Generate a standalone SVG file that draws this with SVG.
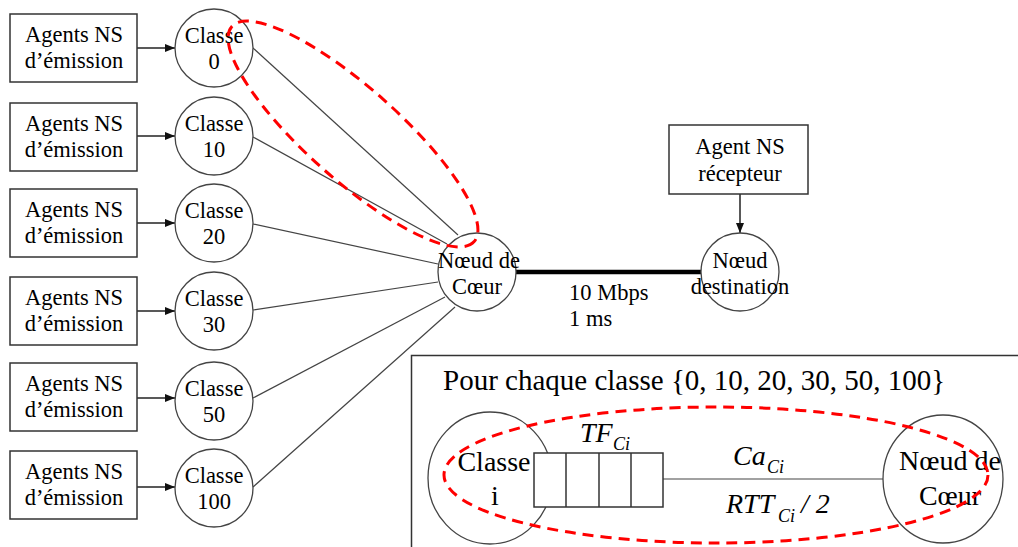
<svg xmlns="http://www.w3.org/2000/svg" width="1018" height="547" viewBox="0 0 1018 547">
<defs>
<style>
.box{fill:#fff;stroke:#333;stroke-width:1.5}
.nd{fill:#fff;stroke:#444;stroke-width:1.3}
.t{font-family:"Liberation Serif","Times New Roman",serif;font-size:22.5px;fill:#000;text-anchor:middle}
.tl{font-family:"Liberation Serif","Times New Roman",serif;font-size:22.5px;fill:#000}
.b{font-family:"Liberation Serif","Times New Roman",serif;font-size:28px;fill:#000}
.bi{font-family:"Liberation Serif","Times New Roman",serif;font-size:28px;font-style:italic;fill:#000}
.sub{font-family:"Liberation Serif","Times New Roman",serif;font-size:18px;font-style:italic;fill:#000}
.ln{stroke:#444;stroke-width:1.2;fill:none}
.arr{stroke:#222;stroke-width:1.5;fill:none;marker-end:url(#ah)}
.red{fill:none;stroke:#f00;stroke-width:3;stroke-dasharray:11 7}
</style>
<marker id="ah" markerWidth="10" markerHeight="8" refX="10" refY="4" orient="auto" markerUnits="userSpaceOnUse">
<path d="M0,0 L10,4 L0,8 z" fill="#111"/>
</marker>
</defs>
<rect width="1018" height="547" fill="#fff"/>

<g id="connectors">
<line class="arr" x1="137" y1="48" x2="175" y2="48"/>
<line class="arr" x1="137" y1="136" x2="175" y2="136"/>
<line class="arr" x1="137" y1="223" x2="175" y2="223"/>
<line class="arr" x1="137" y1="311" x2="175" y2="311"/>
<line class="arr" x1="137" y1="398" x2="175" y2="398"/>
<line class="arr" x1="137" y1="487" x2="175" y2="487"/>
<line class="ln" x1="253" y1="48" x2="458" y2="235"/>
<line class="ln" x1="253" y1="137" x2="447" y2="244"/>
<line class="ln" x1="253" y1="224" x2="438" y2="264"/>
<line class="ln" x1="253" y1="310" x2="438" y2="282"/>
<line class="ln" x1="253" y1="398" x2="445" y2="297"/>
<line class="ln" x1="253" y1="487" x2="455" y2="307"/>
<line x1="516" y1="272" x2="701" y2="272" stroke="#000" stroke-width="4.5"/>
<line class="arr" x1="740" y1="194" x2="740" y2="233"/>
</g>

<g id="src0"><rect class="box" x="10" y="14" width="127" height="68"/><text class="t" x="74" y="42">Agents NS</text><text class="t" x="74" y="68">d’émission</text></g>
<g id="src10"><rect class="box" x="10" y="103" width="127" height="68"/><text class="t" x="74" y="131">Agents NS</text><text class="t" x="74" y="157">d’émission</text></g>
<g id="src20"><rect class="box" x="10" y="189" width="127" height="68"/><text class="t" x="74" y="217">Agents NS</text><text class="t" x="74" y="243">d’émission</text></g>
<g id="src30"><rect class="box" x="10" y="277" width="127" height="68"/><text class="t" x="74" y="305">Agents NS</text><text class="t" x="74" y="331">d’émission</text></g>
<g id="src50"><rect class="box" x="10" y="363" width="127" height="68"/><text class="t" x="74" y="391">Agents NS</text><text class="t" x="74" y="417">d’émission</text></g>
<g id="src100"><rect class="box" x="10" y="451" width="127" height="68"/><text class="t" x="74" y="479">Agents NS</text><text class="t" x="74" y="505">d’émission</text></g>

<g id="c0"><circle class="nd" cx="214" cy="48" r="39"/><text class="t" x="214" y="43">Classe</text><text class="t" x="214" y="69">0</text></g>
<g id="c10"><circle class="nd" cx="214" cy="136" r="39"/><text class="t" x="214" y="131">Classe</text><text class="t" x="214" y="157">10</text></g>
<g id="c20"><circle class="nd" cx="214" cy="223" r="39"/><text class="t" x="214" y="218">Classe</text><text class="t" x="214" y="244">20</text></g>
<g id="c30"><circle class="nd" cx="214" cy="311" r="39"/><text class="t" x="214" y="306">Classe</text><text class="t" x="214" y="332">30</text></g>
<g id="c50"><circle class="nd" cx="214" cy="401" r="39"/><text class="t" x="214" y="396">Classe</text><text class="t" x="214" y="422">50</text></g>
<g id="c100"><circle class="nd" cx="214" cy="488" r="39"/><text class="t" x="214" y="483">Classe</text><text class="t" x="214" y="509">100</text></g>

<g id="core"><circle class="nd" cx="477" cy="272" r="39"/><text class="t" x="479" y="268">Nœud de</text><text class="t" x="477" y="294">Cœur</text></g>
<g id="dest"><circle class="nd" cx="740" cy="272" r="39"/><text class="t" x="740" y="268">Nœud</text><text class="t" x="740" y="294">destination</text></g>
<g id="recv"><rect class="box" x="669" y="125" width="139" height="69"/><text class="t" x="740" y="154">Agent NS</text><text class="t" x="740" y="181">récepteur</text></g>
<g id="linklabel"><text class="tl" x="569" y="300">10 Mbps</text><text class="tl" x="569" y="326">1 ms</text></g>

<ellipse class="red" cx="353" cy="134" rx="162" ry="46" transform="rotate(41.6 353 134)"/>

<g id="panel">
<rect x="411.5" y="355.5" width="620" height="200" fill="#fff" stroke="#333" stroke-width="1.5"/>
<text class="b" x="443" y="390" style="font-size:29px">Pour chaque classe {0, 10, 20, 30, 50, 100}</text>
<line class="ln" x1="663" y1="479" x2="883" y2="479"/>
<g id="classi"><ellipse class="nd" cx="490" cy="478" rx="62" ry="66"/><text class="b" x="494" y="471" text-anchor="middle">Classe</text><text class="b" x="495" y="505" text-anchor="middle">i</text></g>
<g id="queue" fill="#fff" stroke="#333" stroke-width="1.5">
<rect x="534" y="453" width="129" height="54"/>
<line x1="566" y1="453" x2="566" y2="507"/>
<line x1="599" y1="453" x2="599" y2="507"/>
<line x1="631" y1="453" x2="631" y2="507"/>
</g>
<g id="corei"><ellipse class="nd" cx="943" cy="479" rx="60" ry="64"/><text class="b" x="950" y="470" text-anchor="middle">Nœud de</text><text class="b" x="950" y="505" text-anchor="middle">Cœur</text></g>
<text class="bi" x="580" y="442">TF</text><text class="sub" x="613" y="450">Ci</text>
<text class="bi" x="733" y="465">Ca</text><text class="sub" x="767" y="473">Ci</text>
<text class="bi" x="726" y="513">RTT</text><text class="sub" x="778" y="522">Ci</text><text class="bi" x="801" y="513">/ 2</text>
<ellipse class="red" cx="716" cy="475" rx="272" ry="68"/>
</g>
</svg>
